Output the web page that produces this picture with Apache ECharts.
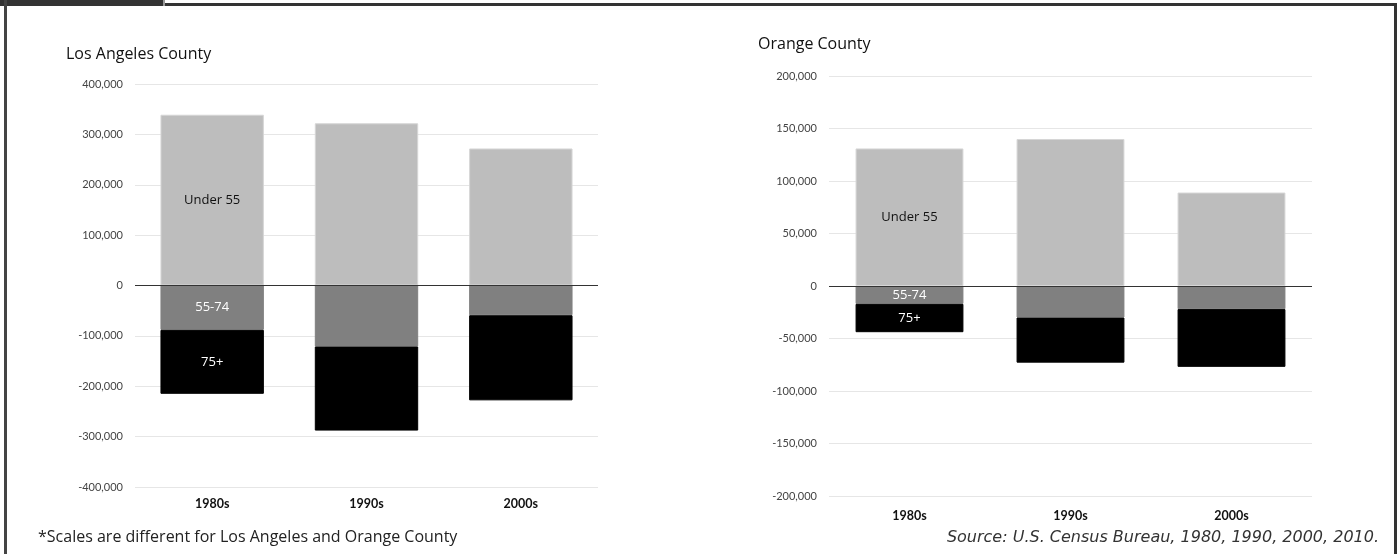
<!DOCTYPE html>
<html>
<head>
<meta charset="utf-8">
<script src="https://cdn.jsdelivr.net/npm/echarts@6/dist/echarts.min.js"></script>
<style>
html,body{margin:0;padding:0;background:#fff;}
#chart{width:1399px;height:554px;}
</style>
</head>
<body>
<div id="chart"></div>
<script>
// ---- data ----
const categories = ['1980s', '1990s', '2000s'];
const seriesNames = ['Under 55', '55-74', '75+'];
const laUnder55 = [339000, 322000, 272000];
const la55to74 = [-88000, -121000, -59000];
const la75plus = [-127000, -167000, -169000];
const ocUnder55 = [131000, 140000, 89000];
const oc55to74 = [-17000, -30000, -22000];
const oc75plus = [-27000, -43000, -55000];
const laAxis = { min: -400000, max: 400000, interval: 100000 };
const ocAxis = { min: -200000, max: 200000, interval: 50000 };
const titles = ['Los Angeles County', 'Orange County'];
const footNote = '*Scales are different for Los Angeles and Orange County';
const sourceNote = 'Source: U.S. Census Bureau, 1980, 1990, 2000, 2010.';

const FONT = 'Lato, "Open Sans", sans-serif';
const FONT2 = '"Open Sans", Lato, sans-serif';
const colors = ['#bdbdbd', '#808080', '#000000'];
const labelColors = ['#111', '#fff', '#fff'];

function fmt(v) { return v.toLocaleString('en-US'); }

function makeSeries(idx, values, si, withZero) {
  const s = {
    name: seriesNames[si],
    type: 'bar',
    stack: 'tot' + idx,
    xAxisIndex: idx,
    yAxisIndex: idx,
    barCategoryGap: '33%',
    data: values,
    itemStyle: { color: colors[si], borderColor: si === 0 ? '#d6d6d6' : colors[si], borderWidth: 1 },
    label: {
      show: true,
      position: 'inside',
      fontFamily: FONT2,
      fontSize: 13,
      color: labelColors[si],
      formatter: p => p.dataIndex === 0 ? p.seriesName : ''
    },
    emphasis: { disabled: true },
    z: 2
  };
  if (withZero) {
    s.markLine = {
      silent: true,
      symbol: ['none', 'none'],
      label: { show: false },
      lineStyle: { color: '#333', width: 1, type: 'solid' },
      data: [{ yAxis: 0 }],
      z: 5
    };
  }
  return s;
}

const chart = echarts.init(document.getElementById('chart'), null, { renderer: 'canvas' });

const yAxisCommon = {
  type: 'value',
  axisLine: { show: false },
  axisTick: { show: false },
  axisLabel: { fontFamily: FONT, fontSize: 11, color: '#444', formatter: fmt, margin: 12 },
  splitLine: { lineStyle: { color: '#e6e6e6', width: 1 } }
};
const xAxisCommon = {
  type: 'category',
  data: categories,
  axisLine: { show: false },
  axisTick: { show: false },
  axisLabel: { fontFamily: FONT, fontSize: 12.5, fontWeight: 'bold', color: '#111' }
};

chart.setOption({
  animation: false,
  backgroundColor: '#fff',
  title: [
    { text: titles[0], left: 61, top: 41, textStyle: { fontFamily: FONT2, fontSize: 16, fontWeight: 'normal', color: '#111' } },
    { text: titles[1], left: 753, top: 31, textStyle: { fontFamily: FONT2, fontSize: 16, fontWeight: 'normal', color: '#111' } }
  ],
  grid: [
    { left: 135, top: 84, width: 463, height: 403 },
    { left: 829, top: 76, width: 483, height: 420 }
  ],
  xAxis: [
    Object.assign({}, xAxisCommon, { gridIndex: 0, axisLabel: Object.assign({}, xAxisCommon.axisLabel, { margin: 10 }) }),
    Object.assign({}, xAxisCommon, { gridIndex: 1, axisLabel: Object.assign({}, xAxisCommon.axisLabel, { margin: 13 }) })
  ],
  yAxis: [
    Object.assign({}, yAxisCommon, { gridIndex: 0 }, laAxis),
    Object.assign({}, yAxisCommon, { gridIndex: 1 }, ocAxis)
  ],
  series: [
    makeSeries(0, laUnder55, 0, true),
    makeSeries(0, la55to74, 1, false),
    makeSeries(0, la75plus, 2, false),
    makeSeries(1, ocUnder55, 0, true),
    makeSeries(1, oc55to74, 1, false),
    makeSeries(1, oc75plus, 2, false)
  ],
  graphic: [
    // frame
    { type: 'rect', shape: { x: 0, y: 0, width: 163, height: 6 }, style: { fill: '#333' }, silent: true },
    { type: 'rect', shape: { x: 163, y: 0, width: 2, height: 6 }, style: { fill: '#999' }, silent: true },
    { type: 'rect', shape: { x: 165, y: 3, width: 1232, height: 3 }, style: { fill: '#333' }, silent: true },
    { type: 'rect', shape: { x: 4, y: 0, width: 3, height: 554 }, style: { fill: '#444' }, silent: true },
    { type: 'rect', shape: { x: 1394, y: 3, width: 3, height: 551 }, style: { fill: '#333' }, silent: true },
    // notes
    { type: 'text', left: 38, top: 529, style: { text: footNote, fontFamily: FONT2, fontSize: 16, fill: '#222' }, silent: true },
    { type: 'text', right: 1399 - 1379, top: 530, style: { text: sourceNote, fontFamily: '"DejaVu Sans", sans-serif', fontSize: 16, fontStyle: 'italic', fill: '#333' }, silent: true }
  ]
});
</script>
</body>
</html>
